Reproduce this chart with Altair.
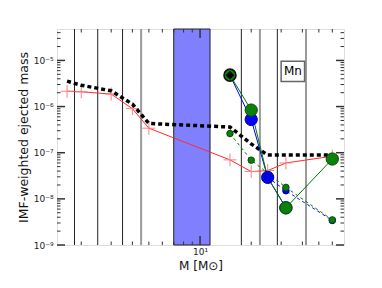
import altair as alt
import pandas as pd

# ---------------- data ----------------
red_m = [1.65, 2, 3, 4, 5, 15, 20, 25, 32, 60]
red_v = [2.15e-6, 2.09e-6, 1.87e-6, 9.0e-7, 3.4e-7, 7.0e-8, 3.9e-8, 4.1e-8, 6.0e-8, 8.4e-8]

black_m = [1.65, 2, 3, 4, 5, 15, 20, 25, 32, 60]
black_v = [3.55e-6, 2.9e-6, 2.2e-6, 1.13e-6, 4.3e-7, 3.6e-7, 1.55e-7, 8.9e-8, 8.9e-8, 8.9e-8]

blue_m = [15, 20, 25, 32]
blue_v = [4.8e-6, 5.25e-7, 2.92e-8, 6.4e-9]

green_m = [15, 20, 25, 32, 60]
green_v = [4.8e-6, 8.4e-7, 2.92e-8, 6.4e-9, 7.3e-8]

green_small_m = [15, 20, 32, 60]
green_small_v = [2.6e-7, 6.9e-8, 1.77e-8, 3.5e-9]

blue_small_m = [25, 32, 60]
blue_small_v = [2.92e-8, 1.5e-8, 3.4e-9]

diamond_m = [15]
diamond_v = [4.8e-6]

band_lo = [7.0]
band_hi = [11.45]

dark_lines = [1.825, 2.5, 3.5, 17.5, 28.5]
grey_lines = [4.5, 22.5, 42]

label_box = {"m": [30.0], "m2": [41.2], "v": [9.6e-6], "v2": [3.5e-6]}
label_txt = {"m": [35.2], "v": [5.8e-6], "t": ["Mn"]}

x_major = [10]
x_minor = [2, 3, 4, 5, 6, 7, 8, 9, 20, 30, 40, 50, 60]
y_major = [1e-9, 1e-8, 1e-7, 1e-6, 1e-5]
y_minor = [k * d for d in y_major for k in range(2, 10) if k * d < 4.8e-5]

X_DOM = [1.44, 70.3]
Y_DOM = [1e-9, 4.8e-5]
W, H = 287, 216

FONT = "DejaVu Sans"

xs = alt.Scale(type="log", domain=X_DOM, nice=False)
ys = alt.Scale(type="log", domain=Y_DOM, nice=False)

xaxis = alt.Axis(values=x_major, labelExpr="'10¹'", ticks=False, tickSize=0, grid=False,
                 domain=False, labelFont=FONT, labelFontSize=9, labelColor="#222",
                 labelPadding=2, title="M [M⊙]", titleFont=FONT, titleFontSize=12,
                 titleFontWeight="normal", titleColor="#111", titlePadding=4)
yaxis = alt.Axis(values=y_major,
                 labelExpr="datum.value < 5e-9 ? '10⁻⁹' : datum.value < 5e-8 ? '10⁻⁸' : "
                           "datum.value < 5e-7 ? '10⁻⁷' : datum.value < 5e-6 ? '10⁻⁶' : '10⁻⁵'",
                 ticks=False, tickSize=0, grid=False, domain=False, labelFont=FONT,
                 labelFontSize=9, labelColor="#222", labelPadding=4,
                 title="IMF-weighted ejected mass", titleFont=FONT, titleFontSize=12.5,
                 titleFontWeight="normal", titleColor="#111", titlePadding=3)


def X(field="m"):
    return alt.X(f"{field}:Q", scale=xs, axis=xaxis)


def Y(field="v"):
    return alt.Y(f"{field}:Q", scale=ys, axis=yaxis)


def df(ms, vs):
    return pd.DataFrame({"m": ms, "v": vs})


band = alt.Chart(pd.DataFrame({"m": band_lo, "m2": band_hi})).mark_rect(
    color="#8080ff", stroke="#222", strokeWidth=1).encode(x=X(), x2="m2:Q")

vdark = alt.Chart(pd.DataFrame({"m": dark_lines})).mark_rule(
    color="#222", strokeWidth=1).encode(x=X())
vgrey = alt.Chart(pd.DataFrame({"m": grey_lines})).mark_rule(
    color="#9a9a9a", strokeWidth=2).encode(x=X())

red_line = alt.Chart(df(red_m, red_v)).mark_line(color="#ff2a2a", strokeWidth=1).encode(
    x=X(), y=Y())
red_pts = alt.Chart(df(red_m, red_v)).mark_point(
    shape="M-1,0H1M0,-1V1", size=169, filled=False, stroke="#ff8080", strokeWidth=1,
    opacity=1).encode(x=X(), y=Y())

black_line = alt.Chart(df(black_m, black_v)).mark_line(
    color="black", strokeWidth=3.5, strokeDash=[4, 3]).encode(x=X(), y=Y())

blue_dash = alt.Chart(df(blue_small_m, blue_small_v)).mark_line(
    color="#0000ff", strokeWidth=1, strokeDash=[3, 3]).encode(x=X(), y=Y())
green_dash = alt.Chart(df(green_small_m, green_small_v)).mark_line(
    color="#007a00", strokeWidth=1, strokeDash=[3, 3]).encode(x=X(), y=Y())

blue_line = alt.Chart(df(blue_m, blue_v)).mark_line(color="#0000ff", strokeWidth=1).encode(
    x=X(), y=Y())
green_line = alt.Chart(df(green_m, green_v)).mark_line(color="#007a00", strokeWidth=1).encode(
    x=X(), y=Y())

blue_big = alt.Chart(df(blue_m, blue_v)).transform_filter("datum.m != 15").mark_point(
    shape="circle", size=150, filled=True, fill="#0000ff", stroke="#00008a", strokeWidth=1,
    opacity=1).encode(x=X(), y=Y())
green_big = alt.Chart(df(green_m, green_v)).transform_filter(
    "datum.m != 25 && datum.m != 15").mark_point(
    shape="circle", size=150, filled=True, fill="#0b800b", stroke="#064a06", strokeWidth=1,
    opacity=1).encode(x=X(), y=Y())
green_first = alt.Chart(df(green_m, green_v)).transform_filter("datum.m == 15").mark_point(
    shape="circle", size=145, filled=True, fill="#0b800b", stroke="#111", strokeWidth=1.5,
    opacity=1).encode(x=X(), y=Y())

blue_small = alt.Chart(df(blue_small_m, blue_small_v)).mark_point(
    shape="circle", size=42, filled=True, fill="#0000ff", stroke="#00008a", strokeWidth=1,
    opacity=1).encode(x=X(), y=Y())
green_small = alt.Chart(df(green_small_m, green_small_v)).mark_point(
    shape="circle", size=42, filled=True, fill="#0b800b", stroke="#064a06", strokeWidth=1,
    opacity=1).encode(x=X(), y=Y())

diamond = alt.Chart(df(diamond_m, diamond_v)).mark_point(
    shape="diamond", size=65, filled=True, fill="black", stroke="black", strokeWidth=0.5,
    opacity=1).encode(x=X(), y=Y())

box = alt.Chart(pd.DataFrame(label_box)).mark_rect(
    fill="white", stroke="#666", strokeWidth=1.5).encode(x=X(), x2="m2:Q", y=Y(), y2="v2:Q")
txt = alt.Chart(pd.DataFrame(label_txt)).mark_text(
    font=FONT, fontSize=12, color="black", align="center", baseline="middle").encode(
    x=X(), y=Y(), text="t:N")

TICK = "#333"
xt_major_b = alt.Chart(pd.DataFrame({"m": x_major})).mark_rule(color=TICK, strokeWidth=1.5).encode(
    x=X(), y=alt.value(H), y2=alt.value(H - 9))
xt_major_t = alt.Chart(pd.DataFrame({"m": x_major})).mark_rule(color=TICK, strokeWidth=1.5).encode(
    x=X(), y=alt.value(0), y2=alt.value(9))
xt_minor_b = alt.Chart(pd.DataFrame({"m": x_minor})).mark_rule(color=TICK, strokeWidth=1).encode(
    x=X(), y=alt.value(H), y2=alt.value(H - 3.5))
xt_minor_t = alt.Chart(pd.DataFrame({"m": x_minor})).mark_rule(color=TICK, strokeWidth=1).encode(
    x=X(), y=alt.value(0), y2=alt.value(3.5))
yt_major_l = alt.Chart(pd.DataFrame({"v": y_major})).mark_rule(color=TICK, strokeWidth=1.5).encode(
    y=Y(), x=alt.value(0), x2=alt.value(8))
yt_major_r = alt.Chart(pd.DataFrame({"v": y_major})).mark_rule(color=TICK, strokeWidth=1.5).encode(
    y=Y(), x=alt.value(W - 8), x2=alt.value(W))
yt_minor_l = alt.Chart(pd.DataFrame({"v": y_minor})).mark_rule(color=TICK, strokeWidth=1).encode(
    y=Y(), x=alt.value(0), x2=alt.value(3.5))
yt_minor_r = alt.Chart(pd.DataFrame({"v": y_minor})).mark_rule(color=TICK, strokeWidth=1).encode(
    y=Y(), x=alt.value(W - 3.5), x2=alt.value(W))

chart = alt.layer(
    band, vdark, vgrey, red_line, red_pts, black_line, blue_dash, green_dash,
    blue_line, green_line, blue_big, green_big, green_first, blue_small, green_small,
    diamond, box, txt,
    xt_major_b, xt_major_t, xt_minor_b, xt_minor_t,
    yt_major_l, yt_major_r, yt_minor_l, yt_minor_r,
).properties(
    width=W, height=H,
    autosize=alt.AutoSizeParams(type="none"),
    padding={"left": 49, "top": 21, "right": 30, "bottom": 35},
).configure_view(stroke="#666", strokeWidth=1.5).configure(background="white")

chart.save("out.html", embed_options={"renderer": "svg", "actions": False})
